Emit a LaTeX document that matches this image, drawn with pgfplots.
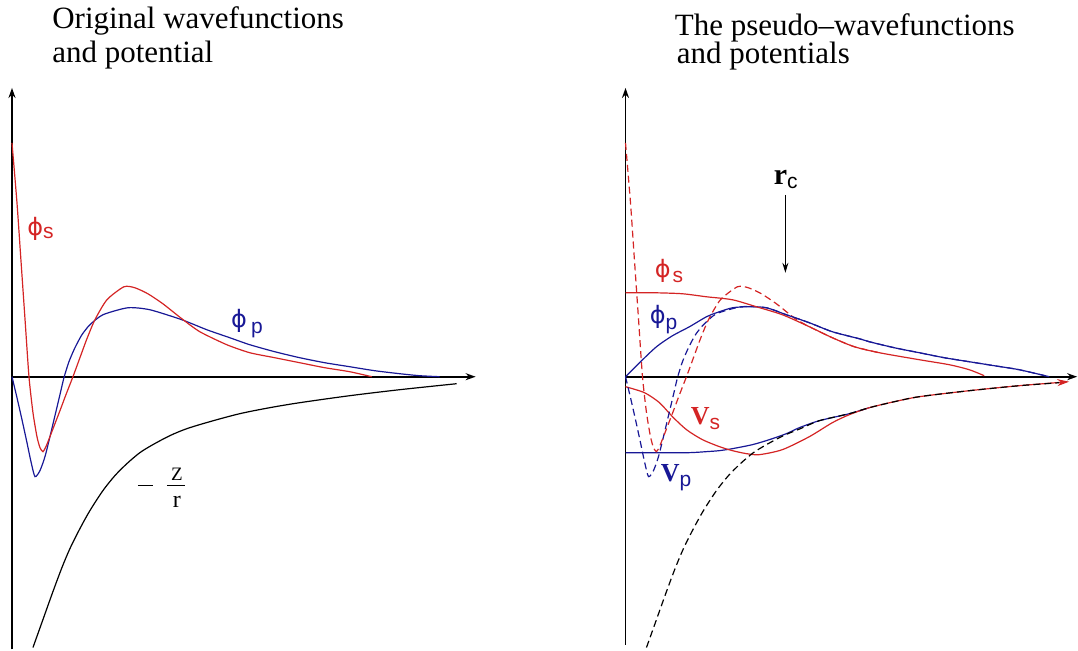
\documentclass[border=0pt]{standalone}
\usepackage{fontspec}
\setmainfont{Liberation Serif}
\setsansfont{Liberation Sans}
\newfontfamily\gk{DejaVu Sans}
\usepackage{pgfplots}
\pgfplotsset{compat=1.18}
\usetikzlibrary{arrows.meta}
\definecolor{cred}{RGB}{212,36,36}
\definecolor{cblue}{RGB}{24,24,150}
\newcommand\sub[2][-2.5pt]{\raisebox{#1}{\fontsize{10.5}{10}\selectfont\mdseries\sffamily #2}}
\newcommand\ph{{\gk ϕ}}

\begin{document}
\begin{tikzpicture}
\begin{axis}[
  width=539pt,height=325pt,scale only axis,
  xmin=0,xmax=1078,ymin=0,ymax=650,y dir=reverse,
  hide axis,clip=false,
  every axis plot/.append style={line width=0.6pt},
  dsh/.style={dash pattern=on 3.5pt off 2pt},
  ax/.style={black,line width=0.85pt,-{Stealth[length=5pt,width=3.5pt]}},
]
\addplot[draw=none] coordinates {(0,0) (1078,650)};

% ---- left panel: original wavefunctions and potential
\addplot[ax] coordinates {(12,650) (12,88)};
\addplot[ax] coordinates {(12,377) (476,377)};

% -Z/r
\addplot[black,smooth] coordinates {
 (33,648) (43,620) (53,592) (62,568) (70,549) (80,529) (90,511) (103,491)
 (115,476) (127,464) (140,453) (153,445) (170,436) (187,429) (210,422)
 (240,414) (270,408) (300,403) (350,396) (400,390) (457,384)};
% phi_p
\addplot[cblue,smooth,tension=0.4] coordinates {
 (12,377) (17,398) (22,420) (27,443) (31,462) (35,477) (40,471) (45,457)
 (50,437) (55,416) (60,395) (64,378) (69,362) (75,348) (82,335) (90,325)
 (103,315) (128,308) (150,310) (182,320) (207,330) (230,338) (250,345)
 (275,352) (300,358) (325,363) (350,367) (375,371) (400,374) (420,376) (440,377)};
% phi_s
\addplot[cred,smooth,tension=0.4] coordinates {
 (12,143) (17,203) (21,261) (25,319) (29,377) (33,413) (37,437) (40,448)
 (43,452) (46,447) (50,437) (55,424) (60,411) (66,395) (73,377) (80,358)
 (87,339) (95,320) (107,300) (124,287) (135,288) (148,294) (163,304)
 (182,319) (200,332) (227,345) (250,353) (275,358) (300,363) (325,368)
 (350,372) (372,377)};

\node[anchor=base west,inner sep=0,text=cred,font=\fontsize{12}{12}\selectfont]
  at (axis cs:27,236) {\ph\sub[-1.5pt]{s}};
\node[anchor=base west,inner sep=0,text=cblue,font=\fontsize{12}{12}\selectfont]
  at (axis cs:231,328) {\ph\hspace{2pt}\sub[-3pt]{p}};
% label -Z/r
\draw[line width=0.7pt] (axis cs:138,486) -- (axis cs:153,486);
\draw[line width=0.6pt] (axis cs:167,486) -- (axis cs:185,486);
\node[anchor=base,inner sep=0,font=\fontsize{9.5}{10}\selectfont] at (axis cs:177,480.5) {Z};
\node[anchor=base,inner sep=0,font=\fontsize{12}{12}\selectfont] at (axis cs:177,508) {r};

\node[anchor=base west,inner sep=0,font=\fontsize{15.5}{18}\selectfont]
  at (axis cs:52,29) {Original wavefunctions};
\node[anchor=base west,inner sep=0,font=\fontsize{15.5}{18}\selectfont]
  at (axis cs:52,63) {and potential};

% ---- right panel: pseudo-wavefunctions and potentials
\addplot[ax] coordinates {(626,645) (626,88)};
\addplot[ax] coordinates {(626,377) (1078,377)};

% V_p
\addplot[cblue,smooth,tension=0.45] coordinates {
 (626,453) (660,453) (690,453) (707,452) (720,451) (733,449) (753,445)
 (770,440) (787,434) (800,428) (820,421) (850,414) (870,408)};
% V_s with arrow
\addplot[cred,smooth,tension=0.45,-{Stealth[length=6pt,width=3.5pt]}] coordinates {
 (626,387) (645,393) (660,403) (673,417) (687,430) (703,440) (720,447)
 (733,451) (747,454) (760,455) (783,450) (810,437) (833,423) (850,415)
 (870,408) (895,402) (920,397) (970,391) (1020,386) (1070,382)};
% -Z/r (dashed)
\addplot[black,dsh,smooth,tension=0.45] coordinates {
 (647,648) (657,620) (667,592) (676,568) (684,549) (694,529) (704,511)
 (717,491) (729,476) (741,464) (754,453) (767,445) (784,436) (801,429)
 (820,421) (850,414) (870,408) (895,402) (920,397) (970,391) (1020,386) (1060,383)};

% original phi_p (dashed)
\addplot[cblue,dsh,smooth,tension=0.4] coordinates {
 (626,377) (631,398) (636,420) (641,443) (645,462) (649,477) (654,471) (659,457)
 (664,437) (669,416) (674,395) (678,378) (683,362) (689,348) (696,335) (704,325)
 (717,314) (742,307) (767,308) (787,315) (810,323) (833,332) (860,339)
 (870,342) (895,348) (920,353) (945,358) (970,362) (995,366) (1020,370) (1050,377)};
% original phi_s (dashed)
\addplot[cred,dsh,smooth,tension=0.4] coordinates {
 (626,143) (631,203) (635,261) (639,319) (643,377) (647,413) (651,437) (654,448)
 (657,452) (660,447) (664,437) (669,424) (674,411) (680,395) (687,377) (694,358)
 (701,339) (709,320) (721,300) (738,287) (749,288) (762,294) (777,304)
 (796,319) (810,327) (833,338) (855,347) (880,353)};

% pseudo phi_p
\addplot[cblue,smooth,tension=0.45] coordinates {
 (626,377) (640,363) (657,347) (673,336) (690,327) (707,317) (717,313)
 (733,308) (750,307) (767,308) (787,315) (810,323) (833,332) (860,339)
 (870,342) (895,348) (920,353) (945,358) (970,362) (995,366) (1020,370) (1050,377)};
% pseudo phi_s
\addplot[cred,smooth,tension=0.45] coordinates {
 (626,293) (655,293) (683,294) (707,297) (733,300) (757,307) (783,315)
 (810,327) (833,338) (855,347) (880,353) (920,360) (950,365) (970,370) (985,376)};

% r_c marker
\addplot[black,line width=0.6pt,-{Stealth[length=5pt,width=3pt]}] coordinates {(786,195) (786,273)};
\node[anchor=base west,inner sep=0,font=\fontsize{15}{15}\selectfont\bfseries]
  at (axis cs:774,185) {r\sub[-2pt]{c}};

\node[anchor=base west,inner sep=0,text=cred,font=\fontsize{12}{12}\selectfont]
  at (axis cs:655,278) {\ph\hspace{1pt}\sub{s}};
\node[anchor=base west,inner sep=0,text=cblue,font=\fontsize{12}{12}\selectfont]
  at (axis cs:650,324) {\ph\sub[-3pt]{p}};
\node[anchor=base west,inner sep=0,text=cred,font=\fontsize{13}{13}\selectfont\bfseries]
  at (axis cs:691,425) {V\sub{s}};
\node[anchor=base west,inner sep=0,text=cblue,font=\fontsize{13}{13}\selectfont\bfseries]
  at (axis cs:661,482) {V\sub{p}};

\node[anchor=base west,inner sep=0,font=\fontsize{15.5}{18}\selectfont]
  at (axis cs:675,36) {The pseudo--wavefunctions};
\node[anchor=base west,inner sep=0,font=\fontsize{15.5}{18}\selectfont]
  at (axis cs:677,64) {and potentials};
\end{axis}
\end{tikzpicture}
\end{document}
